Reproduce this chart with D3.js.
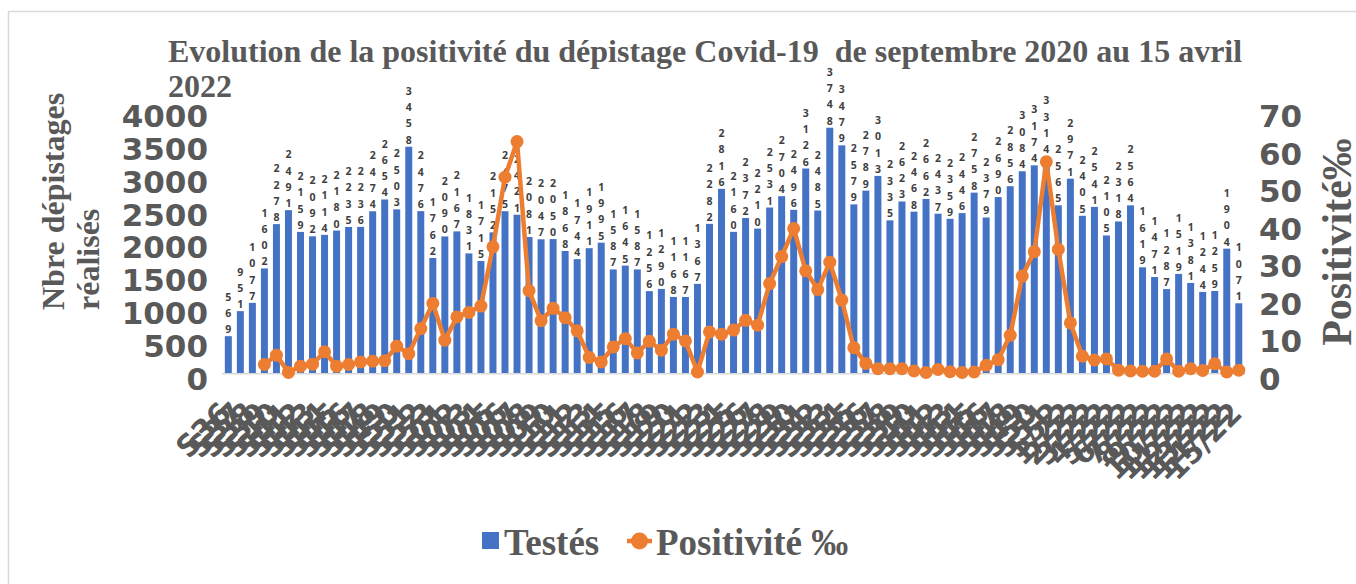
<!DOCTYPE html>
<html><head><meta charset="utf-8">
<script src="https://cdn.jsdelivr.net/npm/d3@7"></script>
<style>body{margin:0;background:#fff} svg{display:block}</style>
</head><body><svg id="c" width="1356" height="584"></svg>
<script>
// ---- data ----
const weeks = [
  "S36","S37","S38","S39","S40","S41","S42","S43","S44","S45","S46","S47","S48","S49","S50","S51","S52","S53",
  "S01","S02","S03","S04","S05","S06","S07","S08","S09","S10","S11","S12","S13","S14","S15","S16","S17","S18",
  "S19","S20","S21","S22","S23","S24","S25","S26","S27","S28","S29","S30","S31","S32","S33","S34","S35","S36",
  "S37","S38","S39","S40","S41","S42","S43","S44","S45","S46","S47","S48","S49","S50","S51","S52",
  "1/22","2/22","3/22","4/22","5/22","6/22","7/22","8/22","9/22","10/22","11/22","12/22","13/22","14/22","15/22"
];
const testes = [
  569,951,1077,1602,2278,2491,2159,2092,2114,2180,2235,2236,2474,2654,2503,3458,
  2476,1762,2090,2167,1831,1715,2152,2475,2421,2081,2047,2050,1868,1744,1911,1995,
  1587,1645,1587,1256,1290,1168,1167,1367,2282,2816,2160,2372,2210,2531,2704,
  2496,3126,2485,3748,3479,2579,2789,3013,2335,2623,2468,2662,2437,2359,2446,2758,
  2379,2690,2856,3084,3174,3314,2565,2971,2405,2541,2105,2318,2564,1619,1471,1287,
  1519,1381,1244,1259,1904,1071
];
const positivite = [
  null,null,null,2.4,4.9,0.3,1.95,2.5,5.8,1.95,2.4,3.1,3.3,3.4,7.3,5.3,
  12.0,18.7,8.9,15.1,16.3,18.0,33.8,52.4,61.9,22.1,14.1,17.4,14.9,11.4,4.3,3.1,
  7.1,9.3,5.5,8.6,6.2,10.5,8.7,0.4,11.1,10.5,11.6,14.2,12.9,24.0,31.2,
  38.7,27.4,22.4,29.7,19.6,6.9,2.7,1.3,1.3,1.3,0.7,0.3,1.1,0.5,0.3,0.4,
  2.2,3.7,10.2,26.0,32.5,56.5,33.1,13.5,4.6,3.6,3.9,0.9,0.7,0.6,0.6,3.9,
  0.6,1.3,0.8,2.6,0.4,0.9
];
const leftTicks = [0,500,1000,1500,2000,2500,3000,3500,4000];
const rightTicks = [0,10,20,30,40,50,60,70];
const titleLines = ["Evolution de la positivité du dépistage Covid-19  de septembre 2020 au 15 avril", "2022"];
const leftTitle = ["Nbre dépistages", "réalisés"];
const rightTitle = "Positivité‰";
const legendItems = ["Testés", "Positivité ‰"];

// ---- styling ----
const BLUE = "#4472C4", ORANGE = "#ED7D31", GREY = "#595959";
const SERIF = "'Liberation Serif','Times New Roman',serif";
const SANS = "'DejaVu Sans',sans-serif";

const svg = d3.select("#c");
svg.append("rect").attr("x",8.5).attr("y",11.5).attr("width",1400).attr("height",620)
  .attr("fill","#fff").attr("stroke","#d9d9d9").attr("stroke-width",1.5);

const x = d3.scaleBand().domain(d3.range(testes.length)).range([222.3, 1244.8])
  .paddingInner(0.42).paddingOuter(0.21);
const yL = d3.scaleLinear().domain([0,4000]).range([373.5,111.2]);
const yR = d3.scaleLinear().domain([0,70]).range([373.5,111.2]);
const cx = i => x(i) + x.bandwidth()/2;

// title
svg.append("g").selectAll("text").data(titleLines).join("text")
  .attr("x",168).attr("y",(d,i)=>61.7+i*35.6)
  .attr("font-family",SERIF).attr("font-weight","bold").attr("font-size",32)
  .attr("fill",GREY).style("white-space","pre").text(d=>d);

// left axis title
svg.append("g").selectAll("text").data(leftTitle).join("text")
  .attr("transform",(d,i)=>`translate(${64+i*35},310) rotate(-90)`)
  .attr("font-family",SERIF).attr("font-weight","bold").attr("font-size",32)
  .attr("fill",GREY).text(d=>d);

// right axis title
svg.append("text").attr("transform","translate(1351,242) rotate(-90)")
  .attr("text-anchor","middle").attr("font-family",SERIF).attr("font-weight","bold")
  .attr("font-size",42).attr("fill",GREY).text(rightTitle);

// left axis
const gL = svg.append("g").attr("transform","translate(208,0)")
  .call(d3.axisLeft(yL).tickValues(leftTicks).tickSize(0).tickPadding(0).tickFormat(d3.format("d")));
gL.select(".domain").remove();
gL.selectAll("text").attr("font-family",SANS).attr("font-weight","bold").attr("font-size",31)
  .attr("fill",GREY).attr("dy","0.5em");

// right axis
const gR = svg.append("g").attr("transform","translate(1259,0)")
  .call(d3.axisRight(yR).tickValues(rightTicks).tickSize(0).tickPadding(0).tickFormat(d3.format("d")));
gR.select(".domain").remove();
gR.selectAll("text").attr("font-family",SANS).attr("font-weight","bold").attr("font-size",31)
  .attr("fill",GREY).attr("dy","0.5em");

// bars
svg.append("g").selectAll("rect").data(testes).join("rect")
  .attr("x",(d,i)=>x(i)).attr("width",x.bandwidth())
  .attr("y",d=>yL(d)).attr("height",d=>yL(0)-yL(d)).attr("fill",BLUE);

// baseline
svg.append("line").attr("x1",222).attr("x2",1245).attr("y1",373.8).attr("y2",373.8)
  .attr("stroke","#d9d9d9").attr("stroke-width",1.5);

// x labels
const gX = svg.append("g")
  .call(d3.axisBottom(x).tickSize(0).tickFormat(i=>weeks[i]));
gX.select(".domain").remove();
gX.selectAll(".tick").attr("transform",d=>`translate(${cx(d)+5},415)`);
gX.selectAll("text").attr("font-family",SANS).attr("font-weight","bold").attr("font-size",30)
  .attr("fill",GREY).attr("text-anchor","end").attr("y",0).attr("dy",0)
  .attr("transform","rotate(-45)");

// data labels (digits stacked)
const lab = svg.append("g").selectAll("text").data(testes).join("text")
  .attr("text-anchor","middle").attr("font-family","'Open Sans',sans-serif")
  .attr("font-weight","bold").attr("font-size",10.5).attr("fill","#404040");
lab.each(function(d,i){
  const s = String(d).split("");
  const t = d3.select(this);
  s.forEach((ch,k)=>{
    t.append("tspan").attr("x",cx(i)).attr("y",yL(d)-3-(s.length-1-k)*16.3).text(ch);
  });
});

// line
const line = d3.line().defined(d=>d!=null).x((d,i)=>cx(i)).y(d=>yR(d));
svg.append("path").datum(positivite).attr("d",line).attr("fill","none")
  .attr("stroke",ORANGE).attr("stroke-width",4.5).attr("stroke-linejoin","round");
svg.append("g").selectAll("circle").data(positivite.map((v,i)=>({v,i})).filter(d=>d.v!=null)).join("circle")
  .attr("cx",d=>cx(d.i)).attr("cy",d=>yR(d.v)).attr("r",6.5).attr("fill",ORANGE);

// legend
const lg = svg.append("g");
lg.append("rect").attr("x",482).attr("y",532).attr("width",17).attr("height",17).attr("fill",BLUE);
lg.append("text").attr("x",504).attr("y",555).attr("font-family",SERIF).attr("font-weight","bold")
  .attr("font-size",37).attr("fill",GREY).text(legendItems[0]);
lg.append("line").attr("x1",627).attr("x2",652).attr("y1",541).attr("y2",541)
  .attr("stroke",ORANGE).attr("stroke-width",4.5);
lg.append("circle").attr("cx",639.5).attr("cy",541).attr("r",8.5).attr("fill",ORANGE);
lg.append("text").attr("x",656).attr("y",555).attr("font-family",SERIF).attr("font-weight","bold")
  .attr("font-size",37).attr("fill",GREY).text(legendItems[1]);
</script></body></html>
